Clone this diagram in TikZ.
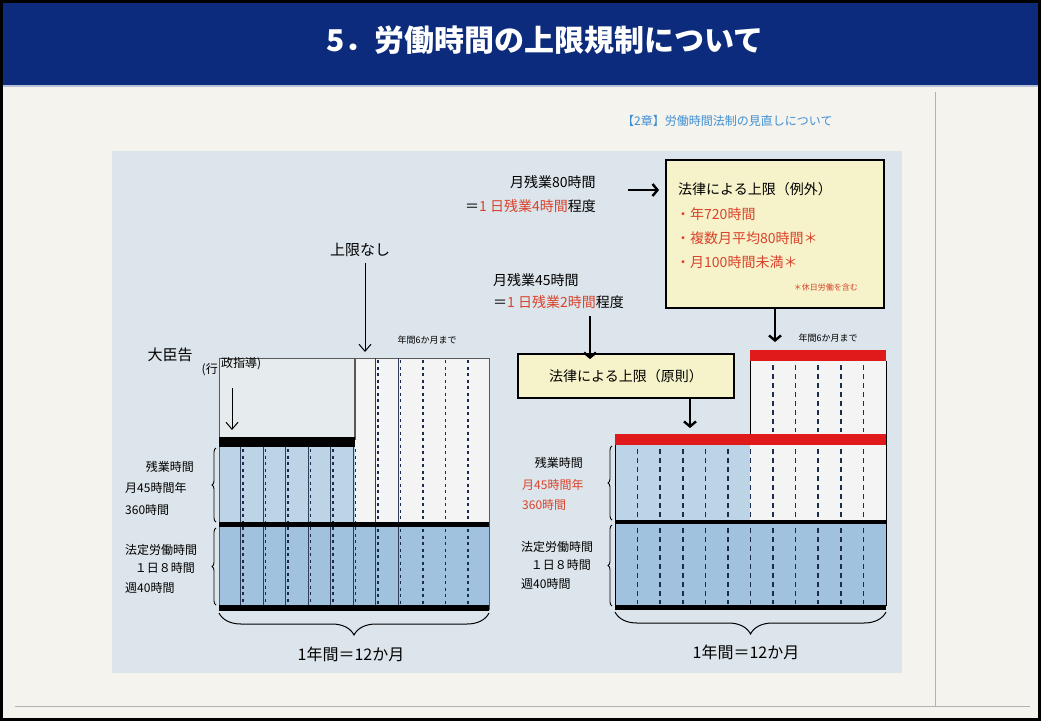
\documentclass[tikz,border=0pt]{standalone}
\usepackage{fontspec}
\setmainfont{Noto Sans CJK JP}
\usetikzlibrary{arrows.meta,decorations.pathreplacing}
\definecolor{navy}{HTML}{0C2B7C}
\definecolor{paper}{HTML}{F4F3EE}
\definecolor{panel}{HTML}{DCE5EB}
\definecolor{boxy}{HTML}{F6F2C9}
\definecolor{lblue}{HTML}{BDD3E6}
\definecolor{mblue}{HTML}{A0C2DE}
\definecolor{redbar}{HTML}{E01A1A}
\definecolor{redtxt}{HTML}{D9432B}
\definecolor{linkblue}{HTML}{3F8FD3}
\definecolor{dashc}{HTML}{1C2C4E}
\definecolor{whitearea}{HTML}{F3F4F3}
\definecolor{topleft}{HTML}{E6EBEE}
\tikzset{
  lbl/.style={font=\fontsize{12}{14}\selectfont, inner sep=0pt},
  mid/.style={font=\fontsize{14}{16}\selectfont, inner sep=0pt},
  bigarrow/.style={line width=2.4pt, -{Straight Barb[length=5pt,width=12pt]}},
  thinarrow/.style={line width=1pt, -{Straight Barb[length=7pt,width=12pt]}},
  capbox/.style={draw=black, line width=1.8pt, fill=boxy, inner sep=0pt},
  dashv/.style={dashc, line width=1.6pt, dash pattern=on 5pt off 4pt},
  dashl/.style={dashc, line width=1.3pt, dash pattern=on 3pt off 3.5pt},
  solidv/.style={dashc!80!gray, line width=0.9pt},
  bracev/.style={decorate, decoration={brace, amplitude=4pt}, line width=0.9pt},
  braceh/.style={decorate, decoration={brace, amplitude=22pt, aspect=0.5}, line width=1pt},
}
\begin{document}
\begin{tikzpicture}[x=1pt,y=-1pt]
\useasboundingbox (0,0) rectangle (1041,721);
% page
\fill[paper] (0,0) rectangle (1041,721);
\fill[navy] (0,0) rectangle (1041,85);
\draw[navy!30!white, line width=1.2pt] (0,86) -- (1041,86);
\draw[gray!60, line width=0.6pt] (935,92) -- (935,706);
\draw[gray!60, line width=0.6pt] (15,706) -- (1030,706);
\draw[black, line width=3pt] (1.5,1.5) rectangle (1039.5,719.5);
\node[text=white, font=\fontsize{30}{34}\selectfont\bfseries, inner sep=0pt] (title) at (545,40) {5．労働時間の上限規制について};
% panel
\fill[panel] (112,151) rectangle (902,673);
\node[text=linkblue, font=\fontsize{12}{14}\selectfont, inner sep=0pt, anchor=west] (chap) at (622,121) {【2章】労働時間法制の見直しについて};

% ---------------- left chart ----------------
\fill[topleft] (219,358) rectangle (355,437);
\fill[whitearea] (355,358) rectangle (489,522);
\fill[lblue] (219,447) rectangle (355,522);
\fill[mblue] (219,527) rectangle (489,606);
\draw[gray!70!black, line width=0.8pt] (219,358) rectangle (489,609);
\foreach \k in {1,...,11}{
  \pgfmathsetmacro\xx{219+22.5*\k}
  \pgfmathsetmacro\yt{\k<7 ? 447 : 358}
  \ifnum\k<9
    \draw[solidv] (\xx-1,\yt) -- (\xx-1,606);
  \fi
  \draw[dashl] (\xx+1.5,\yt+2) -- (\xx+1.5,604);
}
\draw[gray!70!black, line width=2pt] (355,358) -- (355,440);
\fill[black] (219,437) rectangle (355,447);
\fill[black] (219,522) rectangle (489,527);
\fill[black] (219,605) rectangle (489,611);
\draw[bracev] (216,522) -- (216,448);
\draw[bracev] (216,605) -- (216,528);
\draw[braceh] (489,613) -- (219,613);

\node[font=\fontsize{15}{17}\selectfont, inner sep=0pt] (nolim) at (360,250) {上限なし};
\coordinate (nolimEnd) at (365,352);
\draw[thinarrow] ([yshift=-6pt]nolim.south -| nolimEnd) -- (nolimEnd);
\node[font=\fontsize{9}{10}\selectfont, inner sep=0pt] (sixL) at (427,340) {年間6か月まで};
\node[font=\fontsize{15}{17}\selectfont, inner sep=0pt] (daijin) at (170,355) {大臣告};
\node[lbl, anchor=east] (gyo) at (218,370) {(行};
\node[lbl, anchor=west] (seishido) at (221,364) {政指導)};
\coordinate (gyoStart) at (232,388);
\coordinate (gyoEnd) at (232,430);
\draw[thinarrow] (gyoStart) -- (gyoEnd);

\node[lbl, anchor=east] (lz1) at (194,467) {残業時間};
\node[lbl, anchor=west] (lz2) at (125,488) {月45時間年};
\node[lbl, anchor=west] (lz3) at (125,510) {360時間};
\node[lbl, anchor=west] (lh1) at (125,550) {法定労働時間};
\node[lbl, anchor=east] (lh2) at (195,568) {１日８時間};
\node[lbl, anchor=west] (lh3) at (125,588) {週40時間};
\node[font=\fontsize{16}{18}\selectfont, inner sep=0pt] (yearL) at (351,654) {1年間＝12か月};

% ---------------- right chart ----------------
\fill[whitearea] (750,361) rectangle (886,520);
\fill[lblue] (615,445) rectangle (750,520);
\fill[mblue] (615,524) rectangle (886,606);
\foreach \k in {1,...,11}{
  \pgfmathsetmacro\xx{615+22.58*\k}
  \ifnum\k>6
    \draw[dashv] (\xx,365) -- (\xx,432);
  \fi
  \draw[dashv] (\xx,449) -- (\xx,518);
  \draw[dashv] (\xx,528) -- (\xx,604);
}
\fill[redbar] (750,350) rectangle (886,361);
\fill[redbar] (615,434) rectangle (886,445);
\fill[black] (615,520) rectangle (886,524);
\fill[black] (615,605) rectangle (886,610);
\draw[black, line width=0.9pt] (750,361) -- (750,434);
\draw[black, line width=0.9pt] (886,361) -- (886,606);
\draw[black, line width=0.9pt] (615,445) -- (615,606);
\draw[bracev] (612,520) -- (612,446);
\draw[bracev] (612,606) -- (612,525);
\draw[braceh] (886,612) -- (615,612);
\node[font=\fontsize{9}{10}\selectfont, inner sep=0pt] (sixR) at (828,338) {年間6か月まで};

\node[lbl, anchor=east] (rz1) at (583,463) {残業時間};
\node[lbl, anchor=west, text=redtxt] (rz2) at (522,485) {月45時間年};
\node[lbl, anchor=west, text=redtxt] (rz3) at (522,505) {360時間};
\node[lbl, anchor=west] (rh1) at (521,547) {法定労働時間};
\node[lbl, anchor=east] (rh2) at (591,565) {１日８時間};
\node[lbl, anchor=west] (rh3) at (521,584) {週40時間};
\node[font=\fontsize{16}{18}\selectfont, inner sep=0pt] (yearR) at (746,652) {1年間＝12か月};

% ---------------- boxes and notes ----------------
\node[capbox, minimum width=218pt, minimum height=148pt] (exbox) at (775,234) {};
\node[mid, anchor=west] (ex0) at (678,189) {法律による上限（例外）};
\node[mid, anchor=west, text=redtxt] (ex1) at (676,214) {・年720時間};
\node[mid, anchor=west, text=redtxt] (ex2) at (676,238) {・複数月平均80時間＊};
\node[mid, anchor=west, text=redtxt] (ex3) at (676,262) {・月100時間未満＊};
\node[font=\fontsize{8}{9}\selectfont, text=redtxt, inner sep=0pt, anchor=east] (exn) at (858,287) {＊休日労働を含む};

\node[capbox, minimum width=216pt, minimum height=44pt, font=\fontsize{14}{16}\selectfont] (genbox) at (626,376) {法律による上限（原則）};

\node[mid, anchor=west] (m80a) at (510,182) {月残業80時間};
\node[mid, anchor=west] (m80b) at (465,206) {＝{\color{redtxt}1 日残業4時間}程度};
\node[mid, anchor=west] (m45a) at (493,280) {月残業45時間};
\node[mid, anchor=west] (m45b) at (493,302) {＝{\color{redtxt}1 日残業2時間}程度};

\coordinate (a80s) at (628,190);
\draw[bigarrow] (a80s) -- ([xshift=-6pt]exbox.west |- a80s);
\coordinate (a45s) at (590,316);
\draw[bigarrow] (a45s) -- ([yshift=-6pt]genbox.north -| a45s);
\coordinate (genEnd) at (690,428);
\draw[bigarrow] (genbox.south -| genEnd) -- (genEnd);
\coordinate (exEnd) at (775,342);
\draw[bigarrow] (exbox.south -| exEnd) -- (exEnd);
\end{tikzpicture}
\end{document}
